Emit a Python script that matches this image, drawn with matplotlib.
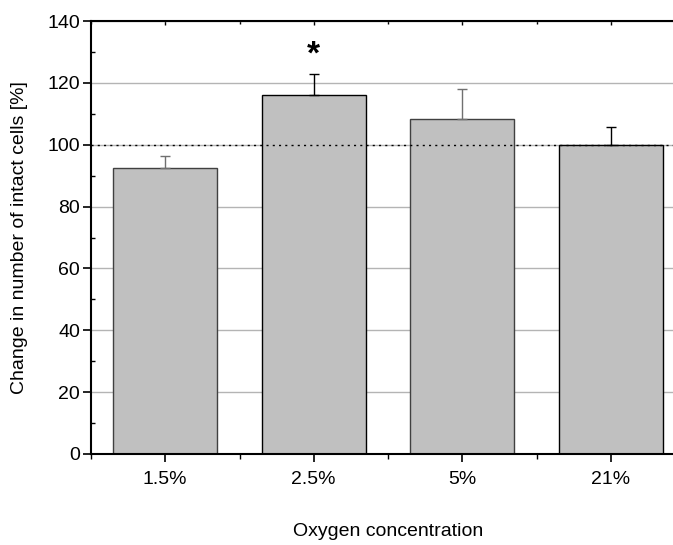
import numpy as np
import matplotlib.pyplot as plt
from matplotlib.ticker import MultipleLocator

plt.rcParams["font.family"] = ["Liberation Sans", "DejaVu Sans"]

conditions = ["1.5%", "2.5%", "5%", "21%"]
cell_change = [92.6, 116.2, 108.4, 100.0]
sem_upper = [3.8, 6.8, 9.7, 5.7]
err_colors = ["#707070", "black", "#707070", "black"]
edge_colors = ["#404040", "black", "#404040", "black"]

x = np.arange(1, len(conditions) + 1)

fig = plt.figure(figsize=(6.73, 5.45), dpi=100)
ax = fig.add_axes([91 / 673, 91 / 545, 594 / 673, 433 / 545])

ax.set_axisbelow(True)
ax.yaxis.grid(True, color="#b4b4b4", linewidth=1.0)

ax.bar(x, cell_change, width=0.70, color="#c0c0c0",
       edgecolor=edge_colors, linewidth=1.0, zorder=2)
for xi, v, e, c in zip(x, cell_change, sem_upper, err_colors):
    ax.errorbar(xi, v, yerr=[[0], [e]], fmt="none", ecolor=c,
                elinewidth=1.0, capsize=3.5, capthick=1.0, zorder=3)

# reference level at 100 %
ax.axhline(100, color="black", linestyle=(0, (1.5, 3)), linewidth=1.0, zorder=4)

# significance marker
ax.text(2, 129, "*", ha="center", va="center", fontsize=24, fontweight="bold")

ax.set_xlim(0.5, 4.5)
ax.set_ylim(0, 140)
ax.set_xticks(x)
ax.set_xticklabels(conditions, fontsize=14)
ax.xaxis.set_minor_locator(MultipleLocator(1.0, offset=0.5))
ax.yaxis.set_major_locator(MultipleLocator(20))
ax.yaxis.set_minor_locator(MultipleLocator(10))
ax.tick_params(axis="y", which="major", direction="out", length=6, width=1.2,
               labelsize=14, pad=2)
ax.tick_params(axis="y", which="minor", direction="in", length=3, width=1.0)
ax.tick_params(axis="x", which="major", direction="in", length=3, width=1.0,
               top=True, bottom=False)
ax.tick_params(axis="x", which="minor", direction="in", length=2.5, width=1.0,
               top=True, bottom=False)
# bottom ticks point outward, top ticks inward
ax.tick_params(axis="x", which="major", bottom=True, pad=12)
for t in ax.xaxis.get_major_ticks():
    t.tick1line.set_marker(3)
    t.tick1line.set_markersize(6)
    t.tick1line.set_markeredgewidth(1.2)
for t in ax.xaxis.get_minor_ticks():
    t.tick1line.set_visible(True)
    t.tick1line.set_marker(3)
    t.tick1line.set_markersize(3.5)

for side in ["left", "bottom", "top"]:
    ax.spines[side].set_linewidth(1.5)
ax.spines["right"].set_visible(False)

ax.set_ylabel("Change in number of intact cells [%]", fontsize=14,
              va="center")
ax.yaxis.set_label_coords(-71 / 594, 0.5)
ax.set_xlabel("Oxygen concentration", fontsize=14, va="center")
ax.xaxis.set_label_coords(0.5, -78 / 433)

fig.savefig("out.png", dpi=100)
